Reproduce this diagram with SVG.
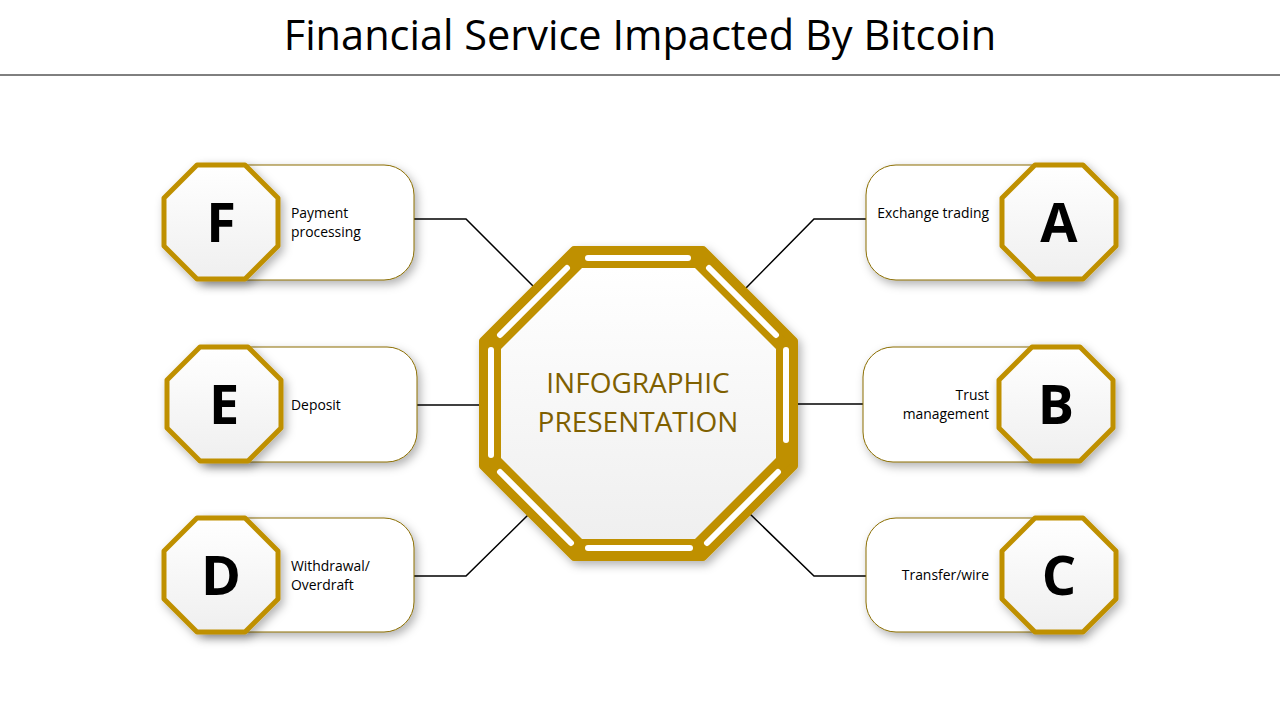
<svg xmlns="http://www.w3.org/2000/svg" width="1280" height="720" viewBox="0 0 1280 720">
<defs>
<filter id="sh" x="-30%" y="-30%" width="160%" height="160%"><feDropShadow dx="3" dy="4" stdDeviation="5" flood-color="#000" flood-opacity="0.3"/></filter>
<linearGradient id="wg" x1="0" y1="0" x2="0" y2="1"><stop offset="0" stop-color="#ffffff"/><stop offset="1" stop-color="#efefef"/></linearGradient>
<style>
.card{fill:#fff;stroke:#8a6d00;stroke-width:1;filter:url(#sh)}
.oct{fill:url(#wg);stroke:#bf9000;stroke-width:5;stroke-linejoin:round;filter:url(#sh)}
.let{font-family:"Open Sans","DejaVu Sans",sans-serif;font-weight:bold;font-size:54px;text-anchor:middle;fill:#000}
.lab{font-family:"Open Sans","DejaVu Sans",sans-serif;font-size:13.9px;fill:#000}
.con{fill:none;stroke:#000;stroke-width:1.5}
.slit{stroke:#fff;stroke-width:6;stroke-linecap:round}
</style>
</defs>
<rect width="1280" height="720" fill="#fff"/>
<text x="640" y="50" font-family="Open Sans, DejaVu Sans, sans-serif" font-size="41.5" text-anchor="middle">Financial Service Impacted By Bitcoin</text>
<line x1="0" y1="75" x2="1280" y2="75" stroke="#000" stroke-width="1"/>
<g id="connectors">
<polyline class="con" points="414,219 466,219 534,287"/>
<polyline class="con" points="417,405 484,405"/>
<polyline class="con" points="414,576 466,576 528,515"/>
<polyline class="con" points="866,219 814,219 746,288"/>
<polyline class="con" points="863,404 793,404"/>
<polyline class="con" points="866,576 814,576 750,514"/>
</g>
<g id="center">
<polygon points="574,250 703,250 794,341 794,466 703,557 574,557 483,466 483,341" fill="#bf9000" stroke="#bf9000" stroke-width="8" stroke-linejoin="round" filter="url(#sh)"/>
<polygon points="582,268 695,268 776,349 776,458 695,539 582,539 501,458 501,349" fill="url(#wg)"/>
<line class="slit" x1="588" y1="258" x2="688" y2="258"/>
<line class="slit" x1="709" y1="268" x2="776" y2="335"/>
<line class="slit" x1="786" y1="350" x2="786" y2="440"/>
<line class="slit" x1="778" y1="472" x2="707" y2="543"/>
<line class="slit" x1="690" y1="548" x2="588" y2="548"/>
<line class="slit" x1="571" y1="543" x2="500" y2="472"/>
<line class="slit" x1="491" y1="455" x2="491" y2="350"/>
<line class="slit" x1="500" y1="335" x2="567" y2="268"/>
<text x="638" y="393" font-family="Open Sans, DejaVu Sans, sans-serif" font-size="28" fill="#7f6000" text-anchor="middle">INFOGRAPHIC</text>
<text x="638" y="432" font-family="Open Sans, DejaVu Sans, sans-serif" font-size="28" fill="#7f6000" text-anchor="middle">PRESENTATION</text>
</g>
<g id="nodeF">
<path class="card" d="M200,165 H384 A30,30 0 0 1 414,195 V250 A30,30 0 0 1 384,280 H200 Z"/>
<polygon class="oct" transform="translate(221,222)" points="-24,-57 24,-57 57,-24 57,24 24,57 -24,57 -57,24 -57,-24"/>
<text class="let" x="221" y="242">F</text>
<text class="lab" x="291" y="218">Payment</text><text class="lab" x="291" y="237">processing</text>
</g>
<g id="nodeE">
<path class="card" d="M203,347 H387 A30,30 0 0 1 417,377 V432 A30,30 0 0 1 387,462 H203 Z"/>
<polygon class="oct" transform="translate(224,404)" points="-24,-57 24,-57 57,-24 57,24 24,57 -24,57 -57,24 -57,-24"/>
<text class="let" x="224" y="424">E</text>
<text class="lab" x="291" y="410">Deposit</text>
</g>
<g id="nodeD">
<path class="card" d="M200,518 H384 A30,30 0 0 1 414,548 V602 A30,30 0 0 1 384,632 H200 Z"/>
<polygon class="oct" transform="translate(221,575)" points="-24,-57 24,-57 57,-24 57,24 24,57 -24,57 -57,24 -57,-24"/>
<text class="let" x="221" y="595">D</text>
<text class="lab" x="291" y="571">Withdrawal/</text><text class="lab" x="291" y="590">Overdraft</text>
</g>
<g id="nodeA">
<path class="card" d="M1080,165 H896 A30,30 0 0 0 866,195 V250 A30,30 0 0 0 896,280 H1080 Z"/>
<polygon class="oct" transform="translate(1059,222)" points="-24,-57 24,-57 57,-24 57,24 24,57 -24,57 -57,24 -57,-24"/>
<text class="let" x="1059" y="242">A</text>
<text class="lab" x="989" y="218" text-anchor="end">Exchange trading</text>
</g>
<g id="nodeB">
<path class="card" d="M1077,347 H893 A30,30 0 0 0 863,377 V432 A30,30 0 0 0 893,462 H1077 Z"/>
<polygon class="oct" transform="translate(1056,404)" points="-24,-57 24,-57 57,-24 57,24 24,57 -24,57 -57,24 -57,-24"/>
<text class="let" x="1056" y="424">B</text>
<text class="lab" x="989" y="400" text-anchor="end">Trust</text><text class="lab" x="989" y="419" text-anchor="end">management</text>
</g>
<g id="nodeC">
<path class="card" d="M1080,518 H896 A30,30 0 0 0 866,548 V602 A30,30 0 0 0 896,632 H1080 Z"/>
<polygon class="oct" transform="translate(1059,575)" points="-24,-57 24,-57 57,-24 57,24 24,57 -24,57 -57,24 -57,-24"/>
<text class="let" x="1059" y="595">C</text>
<text class="lab" x="989" y="580" text-anchor="end">Transfer/wire</text>
</g>
</svg>
